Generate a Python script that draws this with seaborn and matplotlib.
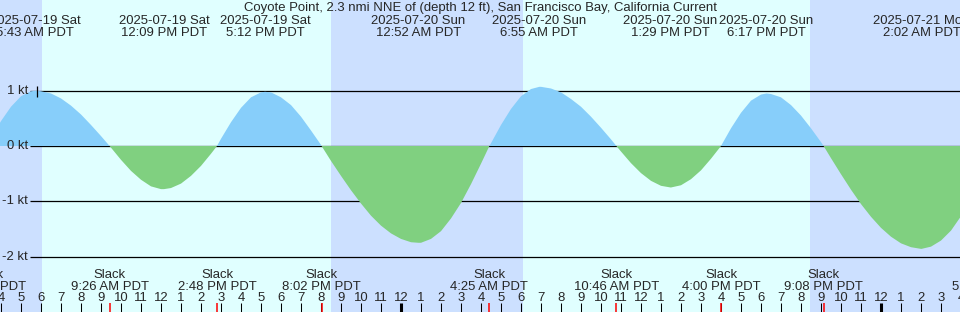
import numpy as np
import pandas as pd
import matplotlib
matplotlib.use("Agg")
import matplotlib.pyplot as plt
import seaborn as sns

# ---------------- data (hours since 2025-07-19 00:00 PDT) ----------------
title = "Coyote Point, 2.3 nmi NNE of (depth 12 ft), San Francisco Bay, California Current"

# current speed read every half hour, 03:00 Jul 19 .. 04:00 Jul 21
hours = [3.0 + 0.5 * i for i in range(99)]
speed_kt = [
    -0.17, 0.15, 0.45, 0.71, 0.90, 0.99,            # 3.0 - 5.5
    0.99, 0.95, 0.86, 0.73, 0.57, 0.38, 0.18, -0.03,  # 6.0 - 9.5
    -0.25, -0.45, -0.61, -0.73, -0.78, -0.76,        # 10.0 - 12.5
    -0.68, -0.54, -0.36, -0.14, 0.13, 0.43,          # 13.0 - 15.5
    0.69, 0.88, 0.97, 0.97, 0.88, 0.74, 0.53, 0.28,  # 16.0 - 19.5
    0.02, -0.27, -0.54, -0.80, -1.04, -1.26, -1.44, -1.58,  # 20.0 - 23.5
    -1.68, -1.74, -1.75, -1.68, -1.54, -1.31, -1.03, -0.69,  # 24.0 - 27.5
    -0.32, 0.05, 0.38, 0.67, 0.90, 1.03, 1.07, 1.04,  # 28.0 - 31.5
    0.97, 0.85, 0.71, 0.53, 0.33, 0.12, -0.10, -0.31,  # 32.0 - 35.5
    -0.49, -0.63, -0.72, -0.75, -0.71, -0.60, -0.44, -0.23,  # 36.0 - 39.5
    0.00, 0.32, 0.60, 0.82, 0.93, 0.94, 0.88, 0.74,  # 40.0 - 43.5
    0.55, 0.32, 0.07, -0.22, -0.51, -0.79, -1.05, -1.28,  # 44.0 - 47.5
    -1.48, -1.64, -1.76, -1.83, -1.86, -1.82, -1.71, -1.53,  # 48.0 - 51.5
    -1.27,                                            # 52.0
]

ext_hours = [5.72, 12.15, 17.20, 24.87, 30.92, 37.48, 42.28, 50.03]
ext_kt = [1.00, -0.78, 0.98, -1.75, 1.07, -0.75, 0.95, -1.86]
ext_dates = ["2025-07-19 Sat", "2025-07-19 Sat", "2025-07-19 Sat",
             "2025-07-20 Sun", "2025-07-20 Sun", "2025-07-20 Sun",
             "2025-07-20 Sun", "2025-07-21 Mon"]
ext_clock = ["5:43 AM PDT", "12:09 PM PDT", "5:12 PM PDT", "12:52 AM PDT",
             "6:55 AM PDT", "1:29 PM PDT", "6:17 PM PDT", "2:02 AM PDT"]

slack_hours = [3.30, 9.43, 14.80, 20.03, 28.42, 34.77, 40.00, 45.13, 53.50]
slack_clock = ["3:18 AM PDT", "9:26 AM PDT", "2:48 PM PDT", "8:02 PM PDT",
               "4:25 AM PDT", "10:46 AM PDT", "4:00 PM PDT", "9:08 PM PDT",
               "5:30 AM PDT"]

sunrise_hours = [6.03, 30.08]
sunset_hours = [20.50, 44.45]

level_kt = [1, 0, -1, -2]
level_labels = ["1 kt", "0 kt", "-1 kt", "-2 kt"]

now_hour = 5.82
x_start, x_end = 3.95, 51.95

# ---------------- style ----------------
day_c = "#e0ffff"
night_c = "#cce0ff"
flood_c = "#87cefa"
ebb_c = "#80d080"
FS = 9.45

sns.set_style("white")
plt.rcParams["font.family"] = ["Liberation Sans", "DejaVu Sans"]

W, H = 960, 312
fig = plt.figure(figsize=(W / 100, H / 100), dpi=100, facecolor=day_c)
ax = fig.add_axes([0, 0, 1, 1])
ax.set_facecolor(day_c)
px_per_kt = 55.3
zero_px = 146
ylims = ((zero_px - H) / px_per_kt, zero_px / px_per_kt)

# night shading
night_spans = [(x_start - 2, sunrise_hours[0]),
               (sunset_hours[0], sunrise_hours[1]),
               (sunset_hours[1], x_end + 2)]
for a, b in night_spans:
    ax.axvspan(a, b, color=night_c, lw=0, zorder=0)

# level lines (beneath fills)
ytr = ax.get_yaxis_transform()
xtr = ax.get_xaxis_transform()
ax.hlines(level_kt, 30 / W, 1, transform=ytr, color="black", lw=0.9, zorder=1)
for v, lab in zip(level_kt, level_labels):
    ax.text(28 / W, v, lab, transform=ytr, ha="right", va="center",
            fontsize=FS, zorder=5)

# current curve
df = pd.concat([
    pd.DataFrame({"hour": hours, "kt": speed_kt}),
    pd.DataFrame({"hour": ext_hours, "kt": ext_kt}),
    pd.DataFrame({"hour": slack_hours, "kt": [0.0] * len(slack_hours)}),
]).sort_values("hour").drop_duplicates("hour").reset_index(drop=True)

ax.fill_between(df["hour"], df["kt"], 0, where=df["kt"] >= 0, interpolate=True,
                color=flood_c, lw=0, zorder=2)
ax.fill_between(df["hour"], df["kt"], 0, where=df["kt"] <= 0, interpolate=True,
                color=ebb_c, lw=0, zorder=2)
sns.lineplot(data=df, x="hour", y="kt", ax=ax, lw=0, legend=False, zorder=2)
ax.set_xlim(x_start, x_end)
ax.set_ylim(*ylims)
ax.axis("off")

# now marker
ax.vlines([now_hour], (zero_px - 97) / px_per_kt, (zero_px - 86) / px_per_kt,
          color="black", lw=0.9, zorder=4)

# title and extreme labels
fig.text(0.5, 1 - 10.5 / H, title, ha="center", va="baseline", fontsize=FS)
for h, d, c in zip(ext_hours, ext_dates, ext_clock):
    ax.text(h, 1 - 23.5 / H, d, transform=xtr, ha="center", va="baseline",
            fontsize=FS, clip_on=False)
    ax.text(h, 1 - 35.5 / H, c, transform=xtr, ha="center", va="baseline",
            fontsize=FS, clip_on=False)

# slack labels
for h, c in zip(slack_hours, slack_clock):
    ax.text(h, 1 - 277.5 / H, "Slack", transform=xtr, ha="center",
            va="baseline", fontsize=FS, clip_on=False)
    ax.text(h, 1 - 289.5 / H, c, transform=xtr, ha="center",
            va="baseline", fontsize=FS, clip_on=False)

# hour ticks
tick_hours = list(range(3, 54))
tick_top = 9.5 / H
for h in tick_hours:
    lab = str(h % 12 if h % 12 else 12)
    ax.text(h, 1 - 301 / H, lab, transform=xtr, ha="center", va="baseline",
            fontsize=FS, clip_on=False)
normal = [h for h in tick_hours if h % 24]
midnight = [h for h in tick_hours if h % 24 == 0]
ax.vlines(normal, 0, tick_top, transform=xtr, color="black", lw=0.75, zorder=6)
ax.vlines(midnight, 0, tick_top, transform=xtr, color="black", lw=2.2, zorder=6)
ax.vlines(slack_hours, 0, tick_top, transform=xtr, color="red", lw=1.1, zorder=7)

fig.savefig("out.png", dpi=100, facecolor=day_c)
